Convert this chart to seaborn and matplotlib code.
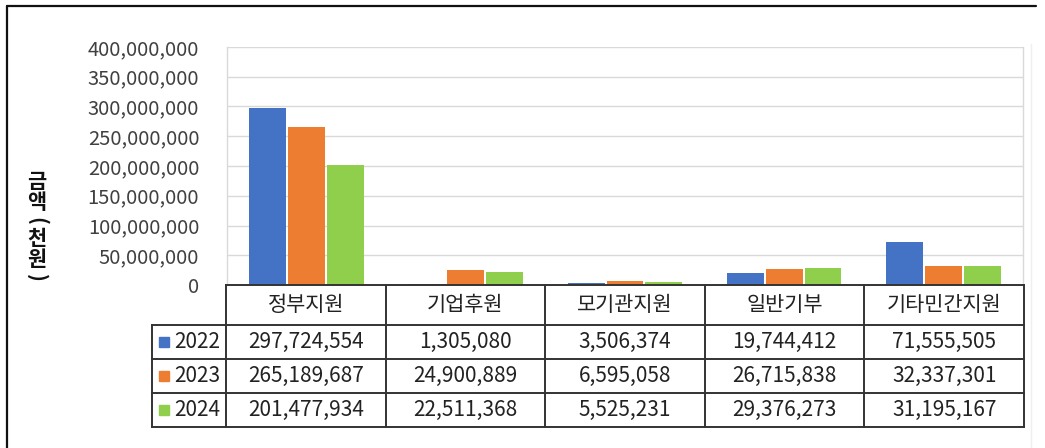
import matplotlib
matplotlib.use("Agg")
import matplotlib.pyplot as plt
import numpy as np
import pandas as pd
import seaborn as sns
from matplotlib.ticker import MultipleLocator, FuncFormatter

# Funding sources (thousand KRW) by year
categories = ["정부지원", "기업후원", "모기관지원", "일반기부", "기타민간지원"]
years = ["2022", "2023", "2024"]
v2022 = [297724554, 1305080, 3506374, 19744412, 71555505]
v2023 = [265189687, 24900889, 6595058, 26715838, 32337301]
v2024 = [201477934, 22511368, 5525231, 29376273, 31195167]
colors = ["#4472C4", "#ED7D31", "#8FCF4B"]
y_label = "금액(천원)"

series = {"2022": v2022, "2023": v2023, "2024": v2024}
df = pd.DataFrame(
    [(c, y, series[y][i]) for y in years for i, c in enumerate(categories)],
    columns=["category", "year", "value"],
)

sns.set_theme(style="white")
plt.rcParams["font.family"] = ["Noto Sans CJK KR", "DejaVu Sans"]

W, H = 1045, 448
fig = plt.figure(figsize=(W / 100, H / 100), dpi=100)
fig.patch.set_facecolor("white")


def fx(px):
    return px / W


def fy(py):
    return 1 - py / H


# plot area (pixel layout)
pl, pr, pt, pb = 227, 1023, 47, 285
ax = fig.add_axes([fx(pl), fy(pb), fx(pr) - fx(pl), fy(pt) - fy(pb)])

sns.barplot(
    data=df, x="category", y="value", hue="year",
    order=categories, hue_order=years, palette=colors,
    width=0.73, gap=0.05, saturation=1, linewidth=0,
    legend=False, ax=ax, zorder=3,
)

ax.set_xlim(-0.5, len(categories) - 0.5)
ax.set_ylim(0, 4e8)
ax.yaxis.set_major_locator(MultipleLocator(5e7))
ax.yaxis.set_major_formatter(FuncFormatter(lambda v, p: f"{int(v):,}"))
ax.grid(axis="y", color="#d9d9d9", lw=1.0)
ax.set_axisbelow(True)
ax.tick_params(axis="y", length=0, pad=20, labelsize=14.5, labelcolor="#404040")
ax.set_xticks([])
ax.set_xlabel("")
ax.set_ylabel("")
for s in ("left", "right"):
    ax.spines[s].set_color("#d9d9d9")
    ax.spines[s].set_linewidth(1.0)
ax.spines["top"].set_visible(False)
ax.spines["bottom"].set_visible(False)

# data table below the plot
tab = fig.add_axes([0, 0, 1, 1], zorder=5)
tab.set_xlim(0, W)
tab.set_ylim(H, 0)
tab.axis("off")
tab.patch.set_alpha(0)

# stacked vertical axis title, one glyph per line (brackets turned sideways)
y_cur = 171
for ch in y_label:
    is_bracket = ch in "()"
    step = 15 if is_bracket else 21
    tab.text(37, y_cur + step / 2, ch, ha="center", va="center",
             rotation=-90 if is_bracket else 0, rotation_mode="anchor",
             fontsize=15, fontweight="bold", color="#111111")
    y_cur += step

ncol = len(categories)
col_edges = [pl - 1 + i * (pr + 1 - (pl - 1)) / ncol for i in range(ncol + 1)]
row_edges = [285, 325, 359, 393, 427]
leg_left = 152
line_kw = dict(color="#333333", lw=1.4, solid_capstyle="projecting")

tab.plot([col_edges[0], col_edges[-1]], [row_edges[0]] * 2, **line_kw)
for r in row_edges[1:]:
    tab.plot([leg_left, col_edges[-1]], [r, r], **line_kw)
tab.plot([leg_left, leg_left], [row_edges[1], row_edges[-1]], **line_kw)
for c in col_edges:
    tab.plot([c, c], [row_edges[0], row_edges[-1]], **line_kw)

txt_kw = dict(ha="center", va="center", color="#222222")
for i, cat in enumerate(categories):
    cx = (col_edges[i] + col_edges[i + 1]) / 2
    tab.text(cx, (row_edges[0] + row_edges[1]) / 2, cat, fontsize=15, **txt_kw)
    for j, y in enumerate(years):
        cy = (row_edges[j + 1] + row_edges[j + 2]) / 2
        tab.text(cx, cy, f"{series[y][i]:,}", fontsize=15, **txt_kw)

for j, y in enumerate(years):
    cy = (row_edges[j + 1] + row_edges[j + 2]) / 2
    tab.plot([164], [cy], "s", ms=6.8, color=colors[j])
    tab.text(174, cy, y, fontsize=15, ha="left", va="center", color="#222222")

# outer frame
tab.plot([7, 1036], [6, 6], color="#111111", lw=1.6)
tab.plot([7, 7], [6, H], color="#111111", lw=1.6)
tab.plot([1031, 1031], [44, H], color="#efefef", lw=1.0)

fig.savefig("out.png", dpi=100, facecolor="white")
